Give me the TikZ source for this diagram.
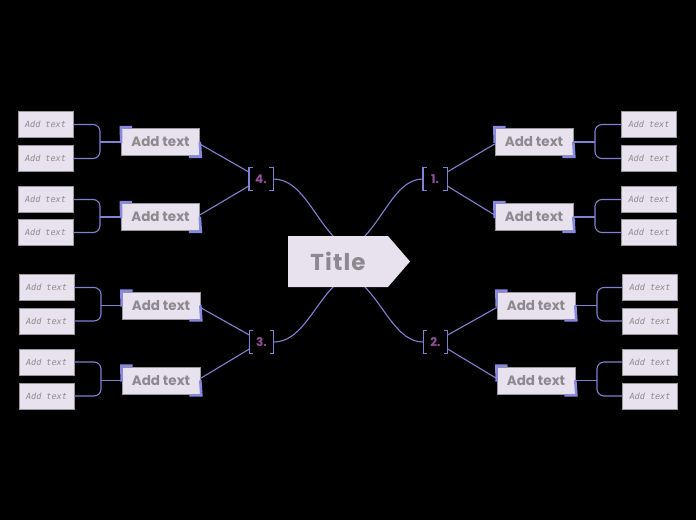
\documentclass[tikz,border=0pt]{standalone}
\usepackage{fontspec}
\newfontfamily\popfont{Poppins}
\newfontfamily\popwide{Poppins}[LetterSpace=5]
\newfontfamily\leaffont{DejaVu Sans Mono}
\definecolor{bg}{HTML}{000000}
\definecolor{boxfill}{HTML}{E8E1EE}
\definecolor{boxline}{HTML}{9A96A0}
\definecolor{lnc}{HTML}{8080D4}
\definecolor{accc}{HTML}{8888E0}
\definecolor{txtgray}{HTML}{8C8A8E}
\definecolor{numc}{HTML}{94509A}
\tikzset{
  mainbox/.style={draw=boxline, line width=0.6pt, fill=boxfill, minimum width=78pt, minimum height=27pt, inner sep=0pt,
    font=\popfont\bfseries\fontsize{13.5}{14}\selectfont, text=txtgray},
  leafbox/.style={draw=boxline, line width=0.6pt, fill=boxfill, minimum width=55pt, minimum height=26pt, inner sep=0pt,
    font=\leaffont\itshape\fontsize{8.5}{9}\selectfont, text=txtgray},
  numbox/.style={minimum width=24pt, minimum height=23pt, inner sep=0pt,
    font=\popfont\bfseries\fontsize{12}{12}\selectfont, text=numc},
  ln/.style={draw=lnc, line width=1.1pt},
  br/.style={draw=lnc, line width=1.4pt},
  acc/.style={draw=accc, line width=2.6pt},
}
\begin{document}
\begin{tikzpicture}[x=1pt,y=-1pt]
\fill[bg] (0,0) rectangle (696,520);
\useasboundingbox (0,0) rectangle (696,520);

% bracket number nodes
\node[numbox] (b1) at (435,179) {1.};
\node[numbox] (b2) at (435.5,342) {2.};
\node[numbox] (b3) at (261.5,342) {3.};
\node[numbox] (b4) at (261,179) {4.};
\coordinate (tc) at (349,261);

% title connectors (behind title)
\draw[ln] (b1.west) .. controls (398,179) and (386,213) .. (365,236) -- (tc);
\draw[ln] (b2.west) .. controls (398,342) and (386,309) .. (365,287) -- (tc);
\draw[ln] (b3.east) .. controls (300,342) and (312,309) .. (333,287) -- (tc);
\draw[ln] (b4.east) .. controls (300,179) and (312,213) .. (333,236) -- (tc);

% title
\fill[boxfill] (288,236) -- (388,236) -- (410,261.5) -- (388,287) -- (288,287) -- cycle;
\node[font=\popwide\bfseries\fontsize{23}{24}\selectfont, text=txtgray] (title) at (338,261.5) {Title};

% brackets
\foreach \b in {b1,b2,b3,b4}{
  \draw[br] ([xshift=4pt]\b.north west) -- (\b.north west) -- (\b.south west) -- ([xshift=4pt]\b.south west);
  \draw[br] ([xshift=-4pt]\b.north east) -- (\b.north east) -- (\b.south east) -- ([xshift=-4pt]\b.south east);
}

% main boxes
\node[mainbox] (m1) at (534,142) {Add text};
\node[mainbox] (m2) at (534,217) {Add text};
\node[mainbox] (m3) at (536,305.5) {Add text};
\node[mainbox] (m4) at (536,380.5) {Add text};
\node[mainbox] (m5) at (161,305.5) {Add text};
\node[mainbox] (m6) at (161,380.5) {Add text};
\node[mainbox] (m7) at (160.5,142) {Add text};
\node[mainbox] (m8) at (160.5,217) {Add text};

% bracket to main box
\draw[ln] ([yshift=7pt]b1.east) -- ([yshift=-2pt]m1.west);
\draw[ln] ([yshift=-7pt]b1.east) -- ([yshift=2pt]m2.west);
\draw[ln] ([yshift=7pt]b2.east) -- ([yshift=-2pt]m3.west);
\draw[ln] ([yshift=-7pt]b2.east) -- ([yshift=2pt]m4.west);
\draw[ln] ([yshift=7pt]b3.west) -- ([yshift=-2pt]m5.east);
\draw[ln] ([yshift=-7pt]b3.west) -- ([yshift=2pt]m6.east);
\draw[ln] ([yshift=7pt]b4.west) -- ([yshift=-2pt]m7.east);
\draw[ln] ([yshift=-7pt]b4.west) -- ([yshift=2pt]m8.east);

% accents
\foreach \m in {m1,m2,m3,m4,m5,m6,m7,m8}{
  \draw[acc] ([yshift=-15pt]\m.north west) -- ([xshift=-0.3pt,yshift=1pt]\m.north west) -- ([xshift=11pt,yshift=1pt]\m.north west);
  \draw[acc] ([yshift=14pt]\m.south east) -- ([xshift=1pt,yshift=-1pt]\m.south east) -- ([xshift=-11pt,yshift=-1pt]\m.south east);
}

% leaves
\node[leafbox] (l1) at (649,124.5) {Add text};
\node[leafbox] (l2) at (649,158.5) {Add text};
\node[leafbox] (l3) at (649,199.5) {Add text};
\node[leafbox] (l4) at (649,232.5) {Add text};
\node[leafbox] (l5) at (650,287.5) {Add text};
\node[leafbox] (l6) at (650,321) {Add text};
\node[leafbox] (l7) at (650,362) {Add text};
\node[leafbox] (l8) at (650,396) {Add text};
\node[leafbox] (l9) at (46.5,287.5) {Add text};
\node[leafbox] (l10) at (46.5,321) {Add text};
\node[leafbox] (l11) at (46.5,362) {Add text};
\node[leafbox] (l12) at (46.5,396) {Add text};
\node[leafbox] (l13) at (45.5,124.5) {Add text};
\node[leafbox] (l14) at (45.5,158.5) {Add text};
\node[leafbox] (l15) at (45.5,199.5) {Add text};
\node[leafbox] (l16) at (45.5,232.5) {Add text};

% junctions
\coordinate (j1) at (595,142);
\coordinate (j2) at (595,217);
\coordinate (j3) at (597,305.5);
\coordinate (j4) at (597,380.5);
\coordinate (j5) at (101,305.5);
\coordinate (j6) at (101,380.5);
\coordinate (j7) at (100,142);
\coordinate (j8) at (100,217);

\draw[ln] (m1.east) -- (j1);
\draw[ln] (m2.east) -- (j2);
\draw[ln] (m3.east) -- (j3);
\draw[ln] (m4.east) -- (j4);
\draw[ln] (m5.west) -- (j5);
\draw[ln] (m6.west) -- (j6);
\draw[ln] (m7.west) -- (j7);
\draw[ln] (m8.west) -- (j8);

\draw[ln, rounded corners=7pt] (l1.west) -| (j1) |- (l2.west);
\draw[ln, rounded corners=7pt] (l3.west) -| (j2) |- (l4.west);
\draw[ln, rounded corners=7pt] (l5.west) -| (j3) |- (l6.west);
\draw[ln, rounded corners=7pt] (l7.west) -| (j4) |- (l8.west);
\draw[ln, rounded corners=7pt] (l9.east) -| (j5) |- (l10.east);
\draw[ln, rounded corners=7pt] (l11.east) -| (j6) |- (l12.east);
\draw[ln, rounded corners=7pt] (l13.east) -| (j7) |- (l14.east);
\draw[ln, rounded corners=7pt] (l15.east) -| (j8) |- (l16.east);
\end{tikzpicture}
\end{document}
